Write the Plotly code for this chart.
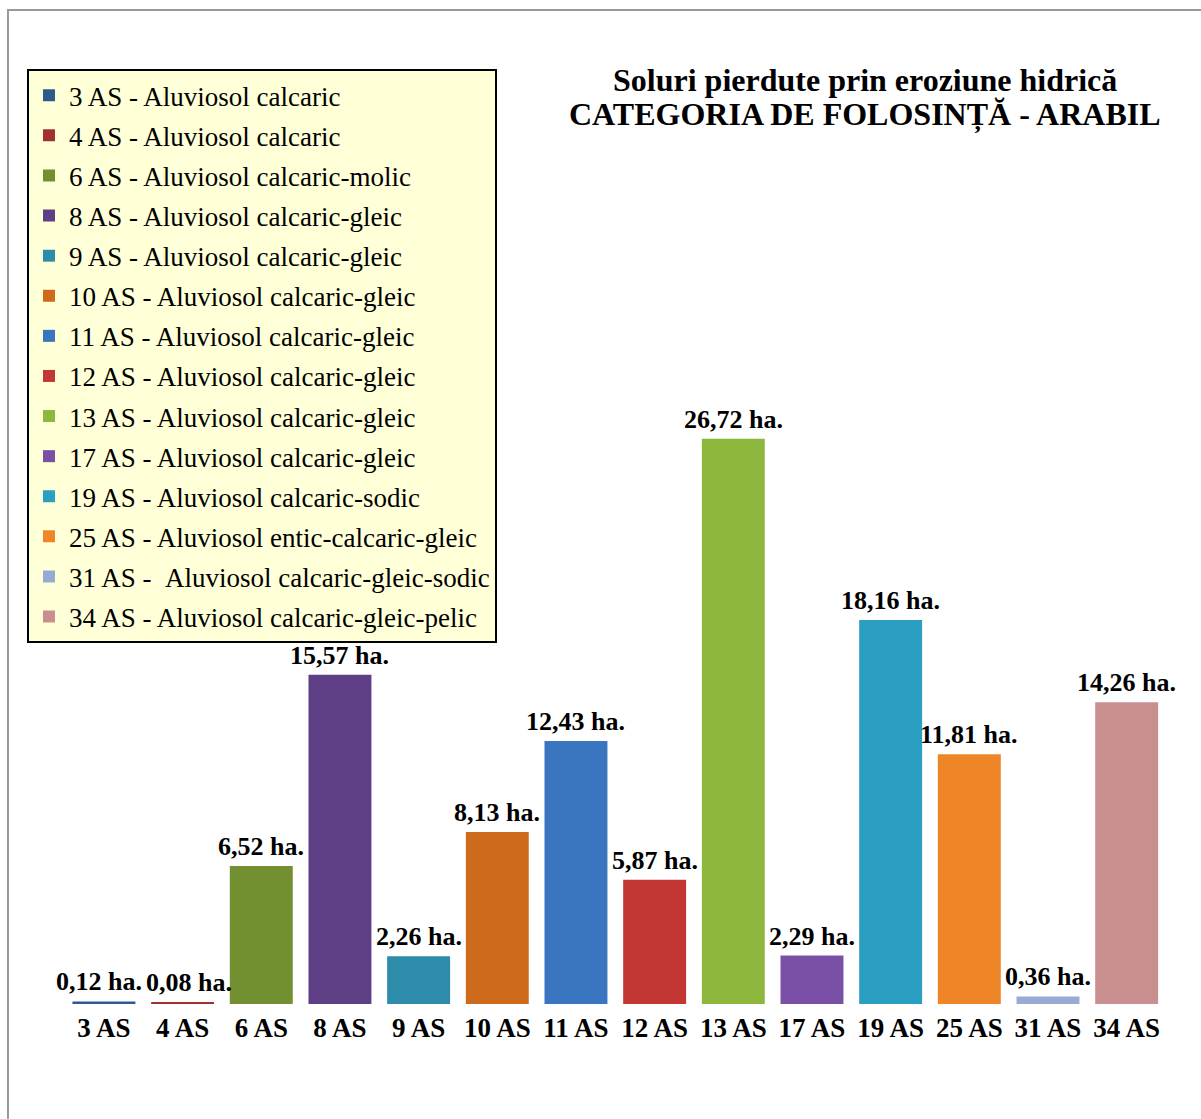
import plotly.graph_objects as go

# Soil units (categories) and eroded area per unit, in hectares
categories = ["3 AS", "4 AS", "6 AS", "8 AS", "9 AS", "10 AS", "11 AS",
              "12 AS", "13 AS", "17 AS", "19 AS", "25 AS", "31 AS", "34 AS"]
areas_ha = [0.12, 0.08, 6.52, 15.57, 2.26, 8.13, 12.43,
            5.87, 26.72, 2.29, 18.16, 11.81, 0.36, 14.26]
soil_names = [
    "3 AS - Aluviosol calcaric",
    "4 AS - Aluviosol calcaric",
    "6 AS - Aluviosol calcaric-molic",
    "8 AS - Aluviosol calcaric-gleic",
    "9 AS - Aluviosol calcaric-gleic",
    "10 AS - Aluviosol calcaric-gleic",
    "11 AS - Aluviosol calcaric-gleic",
    "12 AS - Aluviosol calcaric-gleic",
    "13 AS - Aluviosol calcaric-gleic",
    "17 AS - Aluviosol calcaric-gleic",
    "19 AS - Aluviosol calcaric-sodic",
    "25 AS - Aluviosol entic-calcaric-gleic",
    "31 AS - \u00a0Aluviosol calcaric-gleic-sodic",
    "34 AS - Aluviosol calcaric-gleic-pelic",
]
bar_colors = ["#2e5a8c", "#a03232", "#72902f", "#5e3f86", "#2c8caa", "#cd6a1c",
              "#3a75c0", "#c23634", "#8db83d", "#7a50a6", "#2a9fc2", "#ee8527",
              "#97aad4", "#c98e8e"]
title_lines = ["Soluri pierdute prin eroziune hidrică",
               "CATEGORIA DE FOLOSINȚĂ - ARABIL"]

SERIF = "Liberation Serif, Times New Roman, serif"

# small horizontal nudges (px) so the two tiny neighbouring labels don't collide
label_nudge = {"3 AS": -5, "4 AS": 6}

fig = go.Figure()
for i, (cat, val, name, col) in enumerate(zip(categories, areas_ha, soil_names, bar_colors)):
    fig.add_trace(go.Bar(
        x=[cat], y=[val], name=name, legendgroup=f"g{i}",
        marker=dict(color=col, line=dict(width=0)),
        cliponaxis=False,
    ))
    label = f"{val:.2f}".replace(".", ",") + " ha."
    fig.add_annotation(x=cat, y=val, text=f"<b>{label}</b>", showarrow=False,
                       xanchor="center", yanchor="bottom", yshift=3,
                       xshift=label_nudge.get(cat, 0),
                       font=dict(family=SERIF, size=26, color="black"))

# outer frame of the chart area
fig.add_shape(type="rect", xref="paper", yref="paper",
              x0=-0.0167, x1=1.05, y0=-0.14, y1=1.0102,
              line=dict(color="#999999", width=2), fillcolor="rgba(0,0,0,0)",
              layer="below")

# two-line chart title
for line, ypos in zip(title_lines, [0.939, 0.9035]):
    fig.add_annotation(text=f"<b>{line}</b>", xref="paper", yref="paper",
                       x=0.7357, y=ypos, xanchor="center", yanchor="middle",
                       showarrow=False,
                       font=dict(family=SERIF, size=32, color="black"))

fig.update_layout(
    width=1201, height=1119,
    margin=dict(l=27, r=35, t=20, b=115),
    paper_bgcolor="white", plot_bgcolor="white",
    barmode="overlay", bargap=0.2,
    showlegend=True,
    legend=dict(
        x=0, xanchor="left", y=0.950, yanchor="top",
        bgcolor="#ffffd8", bordercolor="black", borderwidth=2,
        font=dict(family=SERIF, size=27, color="black"),
        tracegroupgap=2, itemclick=False, maxheight=1,
    ),
    xaxis=dict(
        categoryorder="array", categoryarray=categories,
        range=[-0.978, 13.5],
        showgrid=False, zeroline=False, showline=False,
        ticks="", ticklabelstandoff=5, tickangle=0,
        tickfont=dict(family=SERIF, size=27, color="black", weight="bold"),
    ),
    yaxis=dict(range=[0, 46.52], visible=False, showgrid=False, zeroline=False),
)

fig.write_html("out.html")
